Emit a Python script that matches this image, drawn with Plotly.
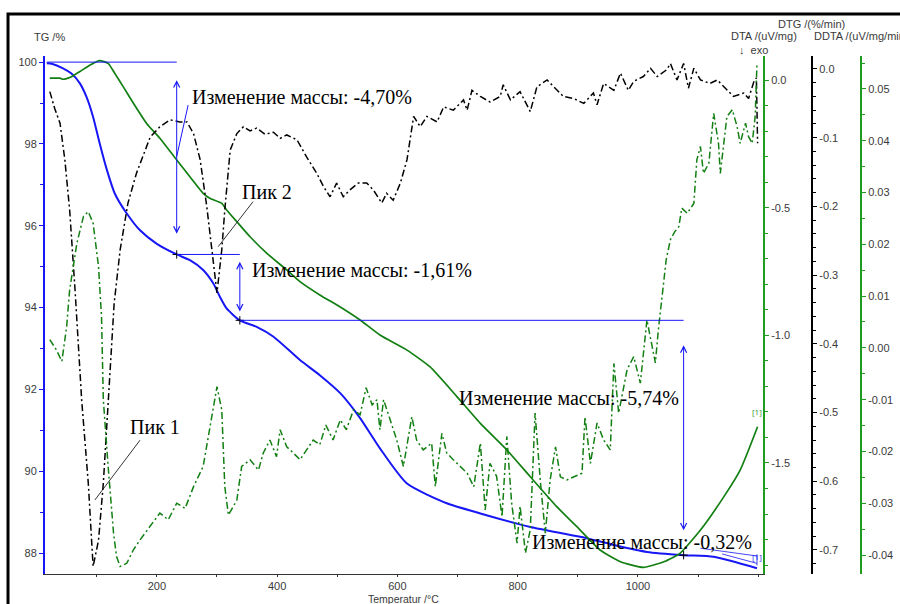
import plotly.graph_objects as go

# ---- measured signals: (temperature °C, value) ----
TG_POINTS = [
    (17, 99.97), (25, 99.96), (44, 99.85), (58, 99.72), (72, 99.48), (83, 99.15),
    (94, 98.66), (105, 98.01), (117, 97.36), (130, 96.79), (150, 96.30), (172, 95.89),
    (200, 95.56), (233, 95.30), (255, 95.16), (277, 94.92), (294, 94.59), (305, 94.26),
    (316, 93.98), (338, 93.69), (366, 93.53), (394, 93.29), (438, 92.72), (471, 92.35),
    (505, 91.91), (538, 91.30), (571, 90.56), (616, 89.70), (682, 89.22), (738, 88.97),
    (821, 88.64), (904, 88.40), (960, 88.20), (1015, 88.03), (1076, 87.95), (1126, 87.91),
    (1198, 87.63),
]

DTA_POINTS = [
    (22, 0.007), (39, 0.007), (44, 0.003), (58, 0.013), (72, 0.033), (89, 0.059),
    (105, 0.076), (119, 0.065), (130, 0.026), (144, -0.026), (161, -0.091), (183, -0.170),
    (205, -0.228), (233, -0.313), (255, -0.379), (277, -0.444), (288, -0.463), (308, -0.483),
    (316, -0.509), (333, -0.555), (355, -0.614), (383, -0.679), (416, -0.744), (438, -0.790),
    (471, -0.842), (505, -0.889), (538, -0.940), (571, -0.999), (616, -1.058), (654, -1.123),
    (699, -1.240), (738, -1.345), (782, -1.449), (821, -1.554), (865, -1.671), (904, -1.763),
    (937, -1.841), (971, -1.887), (1009, -1.909), (1043, -1.887), (1070, -1.854),
    (1104, -1.763), (1143, -1.632), (1170, -1.528), (1199, -1.358),
]

DTG_POINTS = [
    (22, -0.033), (30, -0.057), (39, -0.079), (47, -0.132), (55, -0.205), (64, -0.322),
    (75, -0.482), (86, -0.603), (94, -0.724), (103, -0.686), (111, -0.603), (119, -0.482),
    (129, -0.341), (139, -0.263), (152, -0.195), (166, -0.152), (189, -0.099), (205, -0.084),
    (222, -0.074), (238, -0.077), (250, -0.077), (261, -0.094), (272, -0.132), (283, -0.200),
    (291, -0.263), (300, -0.326), (308, -0.263), (313, -0.205), (322, -0.118), (333, -0.094),
    (344, -0.084), (355, -0.090), (366, -0.086), (380, -0.095), (394, -0.092), (405, -0.101),
    (416, -0.096), (433, -0.103), (449, -0.128), (466, -0.152), (477, -0.171), (488, -0.186),
    (499, -0.166), (510, -0.186), (521, -0.176), (535, -0.166), (549, -0.166), (560, -0.176),
    (574, -0.195), (582, -0.181), (593, -0.191), (605, -0.166), (616, -0.132), (627, -0.069),
    (638, -0.084), (649, -0.069), (666, -0.077), (677, -0.055), (693, -0.060), (710, -0.045),
    (716, -0.060), (724, -0.031), (738, -0.040), (754, -0.048), (771, -0.040), (776, -0.023),
    (788, -0.045), (804, -0.033), (821, -0.062), (832, -0.026), (849, -0.016), (865, -0.031),
    (876, -0.040), (893, -0.043), (910, -0.050), (926, -0.035), (932, -0.052), (943, -0.021),
    (960, -0.031), (971, -0.006), (984, -0.031), (993, -0.018), (1009, -0.011), (1021, 0.001),
    (1032, -0.011), (1048, -0.001), (1054, 0.008), (1065, -0.016), (1076, 0.008),
    (1084, -0.028), (1093, 0.001), (1104, -0.016), (1120, -0.021), (1132, -0.016),
    (1143, -0.026), (1159, -0.040), (1176, -0.035), (1184, -0.043), (1193, -0.018),
    (1197, -0.013), (1199, -0.108),
]

DDTA_POINTS = [
    (22, 0.0016), (33, -0.0004), (42, -0.0026), (44, -0.0010), (50, 0.0041), (55, 0.0112),
    (67, 0.0202), (78, 0.0254), (86, 0.0263), (94, 0.0241), (103, 0.0157), (108, 0.0060),
    (111, -0.0100), (119, -0.0229), (128, -0.0358), (133, -0.0403), (139, -0.0422),
    (150, -0.0416), (161, -0.0390), (172, -0.0371), (189, -0.0345), (205, -0.0319),
    (219, -0.0332), (233, -0.0300), (247, -0.0310), (261, -0.0268), (277, -0.0229),
    (288, -0.0152), (300, -0.0075), (308, -0.0120), (313, -0.0268), (319, -0.0323),
    (333, -0.0294), (341, -0.0229), (355, -0.0216), (369, -0.0236), (377, -0.0203),
    (388, -0.0178), (399, -0.0210), (405, -0.0158), (416, -0.0191), (427, -0.0203),
    (438, -0.0216), (449, -0.0197), (460, -0.0178), (471, -0.0187), (481, -0.0149),
    (493, -0.0178), (505, -0.0139), (515, -0.0158), (527, -0.0120), (538, -0.0129),
    (548, -0.0077), (558, -0.0110), (566, -0.0100), (571, -0.0158), (577, -0.0100),
    (588, -0.0139), (599, -0.0178), (610, -0.0229), (624, -0.0133), (632, -0.0178),
    (643, -0.0197), (657, -0.0184), (663, -0.0268), (674, -0.0165), (682, -0.0203),
    (693, -0.0216), (704, -0.0229), (716, -0.0242), (727, -0.0268), (738, -0.0184),
    (746, -0.0313), (754, -0.0223), (765, -0.0248), (774, -0.0326), (782, -0.0171),
    (790, -0.0300), (799, -0.0377), (804, -0.0306), (813, -0.0396), (821, -0.0351),
    (829, -0.0126), (838, -0.0261), (846, -0.0358), (854, -0.0255), (863, -0.0191),
    (871, -0.0249), (882, -0.0255), (893, -0.0249), (907, -0.0242), (912, -0.0133),
    (921, -0.0223), (932, -0.0145), (943, -0.0178), (954, -0.0197), (960, -0.0030),
    (968, -0.0126), (982, -0.0042), (993, -0.0017), (1004, -0.0068), (1015, 0.0054),
    (1022, 0.0015), (1029, -0.0029), (1034, 0.0035), (1041, 0.0112), (1047, 0.0170),
    (1054, 0.0209), (1061, 0.0224), (1068, 0.0234), (1073, 0.0270), (1082, 0.0260),
    (1093, 0.0279), (1098, 0.0363), (1104, 0.0389), (1109, 0.0337), (1118, 0.0357),
    (1126, 0.0453), (1134, 0.0395), (1137, 0.0337), (1148, 0.0447), (1157, 0.0460),
    (1165, 0.0427), (1170, 0.0395), (1179, 0.0434), (1184, 0.0408), (1190, 0.0395),
    (1195, 0.0447), (1198, 0.0550),
]

# mass-loss evaluation
MASS_START = 100.0
MASS_STEPS = [-4.70, -1.61, -5.74, -0.32]
STEP_TEMPS = [233, 338, 1076]

# axis ticks
X_TICKS = [200, 400, 600, 800, 1000]
TG_TICKS = [88, 90, 92, 94, 96, 98, 100]
DTA_TICKS = [0.0, -0.5, -1.0, -1.5]
DTG_TICKS = [0.0, -0.1, -0.2, -0.3, -0.4, -0.5, -0.6, -0.7]
DDTA_TICKS = [0.05, 0.04, 0.03, 0.02, 0.01, 0.00, -0.01, -0.02, -0.03, -0.04]

BLUE = "#1717f5"
GREEN = "#127f12"
AXIS_GREEN = "#1f9b1f"
TXT = "#3a3a3a"
DASHDOT = "7px,3px,2px,3px"


def split(points):
    return [p[0] for p in points], [p[1] for p in points]


def fmt(v, nd):
    return f"{v:.{nd}f}".replace("\u2212", "-")


levels = [MASS_START]
for s in MASS_STEPS:
    levels.append(round(levels[-1] + s, 2))

fig = go.Figure()

tx, ty = split(DDTA_POINTS)
fig.add_trace(go.Scatter(x=tx, y=ty, yaxis="y4", mode="lines",
                         line=dict(color=GREEN, width=1.5, dash=DASHDOT)))
tx, ty = split(DTG_POINTS)
fig.add_trace(go.Scatter(x=tx, y=ty, yaxis="y3", mode="lines",
                         line=dict(color="black", width=1.5, dash=DASHDOT)))
tx, ty = split(DTA_POINTS)
fig.add_trace(go.Scatter(x=tx, y=ty, yaxis="y2", mode="lines",
                         line=dict(color=GREEN, width=1.7, shape="spline", smoothing=0.5)))
tx, ty = split(TG_POINTS)
fig.add_trace(go.Scatter(x=tx, y=ty, yaxis="y", mode="lines",
                         line=dict(color=BLUE, width=2, shape="spline", smoothing=0.6)))

# step evaluation lines
t_first = TG_POINTS[0][0]
t_last = TG_POINTS[-1][0]
h_segments = [
    (t_first, STEP_TEMPS[0], levels[0]),
    (STEP_TEMPS[0], STEP_TEMPS[1], levels[1]),
    (STEP_TEMPS[1], STEP_TEMPS[2], levels[2]),
]
shapes = []
for x0, x1, lv in h_segments:
    shapes.append(dict(type="line", xref="x", yref="y", x0=x0, x1=x1, y0=lv, y1=lv,
                       line=dict(color=BLUE, width=1)))

# last small step bracket
shapes.append(dict(type="line", xref="x", yref="y", x0=1104, x1=t_last, y0=88.12, y1=87.93,
                   line=dict(color=BLUE, width=0.8)))
shapes.append(dict(type="line", xref="x", yref="y", x0=1140, x1=t_last, y0=87.98, y1=87.75,
                   line=dict(color=BLUE, width=0.8)))
shapes.append(dict(type="line", xref="x", yref="y", x0=t_last, x1=t_last, y0=87.97, y1=87.70,
                   line=dict(color=BLUE, width=0.8)))

# leader lines
shapes.append(dict(type="line", xref="x", yref="y", x0=252, y0=98.95, x1=233, y1=97.69,
                   line=dict(color=BLUE, width=1)))
shapes.append(dict(type="line", xref="x", yref="y", x0=360, y0=96.59, x1=302, y1=95.49,
                   line=dict(color="black", width=0.8)))
shapes.append(dict(type="line", xref="x", yref="y", x0=172, y0=90.76, x1=97, y1=89.30,
                   line=dict(color="black", width=0.8)))

# outer frame
shapes.append(dict(type="rect", xref="paper", yref="paper", x0=-0.0443, x1=1.04,
                   y0=-0.08, y1=1.0811, line=dict(color="black", width=3),
                   fillcolor="rgba(0,0,0,0)", layer="above"))

# step markers
fig.add_trace(go.Scatter(x=STEP_TEMPS, y=levels[1:4], yaxis="y", mode="markers",
                         marker=dict(symbol="cross-thin", size=6,
                                     line=dict(color="black", width=1))))

annotations = []
# double-headed arrows
arrow_spans = [
    (STEP_TEMPS[0], levels[0] - 0.44, levels[1] + 0.47),
    (STEP_TEMPS[1], levels[1] - 0.18, levels[2] + 0.18),
    (STEP_TEMPS[2], levels[2] - 0.61, levels[3] + 0.57),
]
for t, ytop, ybot in arrow_spans:
    annotations.append(dict(x=t, y=ytop, ax=t, ay=ybot, xref="x", yref="y",
                            axref="x", ayref="y", text="", showarrow=True,
                            arrowhead=5, startarrowhead=5, arrowside="end+start",
                            arrowsize=1.2, startarrowsize=1.2, arrowwidth=1,
                            arrowcolor=BLUE, standoff=0, startstandoff=0))

label_pos = [(255, 99.14), (355, 94.92), (699, 91.80), (821, 88.28)]
for (t, y), s in zip(label_pos, MASS_STEPS):
    annotations.append(dict(x=t, y=y, xref="x", yref="y", xanchor="left", yanchor="middle",
                            text="Изменение массы: " + fmt(s, 2).replace(".", ",") + "%",
                            showarrow=False,
                            font=dict(family="Liberation Serif", size=20, color="black")))

annotations.append(dict(x=338, y=96.83, xref="x", yref="y", xanchor="left", yanchor="middle",
                        text="Пик 2", showarrow=False,
                        font=dict(family="Liberation Serif", size=20, color="black")))
annotations.append(dict(x=152, y=91.09, xref="x", yref="y", xanchor="left", yanchor="middle",
                        text="Пик 1", showarrow=False,
                        font=dict(family="Liberation Serif", size=20, color="black")))

annotations.append(dict(x=t_last, y=91.45, xref="x", yref="y", xanchor="center",
                        yanchor="middle", text="[1]", showarrow=False,
                        font=dict(size=8, color=AXIS_GREEN)))
annotations.append(dict(x=t_last, y=87.93, xref="x", yref="y", xanchor="center",
                        yanchor="middle", text="[1]", showarrow=False,
                        font=dict(size=8, color=BLUE)))

# axis titles
title_font = dict(family="Liberation Sans", size=11, color=TXT)
annotations += [
    dict(x=-0.0156, y=1.0367, xref="paper", yref="paper", xanchor="left", yanchor="middle",
         text="TG /%", showarrow=False, font=title_font),
    dict(x=0.9174, y=1.0618, xref="paper", yref="paper", xanchor="center", yanchor="middle",
         text="DTG /(%/min)", showarrow=False, font=title_font),
    dict(x=0.8611, y=1.0386, xref="paper", yref="paper", xanchor="center", yanchor="middle",
         text="DTA /(uV/mg)", showarrow=False, font=title_font),
    dict(x=0.9186, y=1.0386, xref="paper", yref="paper", xanchor="left", yanchor="middle",
         text="DDTA /(uV/mg/min)", showarrow=False, font=title_font),
    dict(x=0.8287, y=1.0116, xref="paper", yref="paper", xanchor="left", yanchor="middle",
         text="\u2193  exo", showarrow=False, font=title_font),
    dict(x=0.4299, y=-0.0473, xref="paper", yref="paper", xanchor="center", yanchor="middle",
         text="Temperatur /°C", showarrow=False,
         font=dict(family="Liberation Sans", size=10.5, color=TXT)),
]

tick_font = dict(family="Liberation Sans", size=11, color=TXT)

fig.update_layout(
    width=900, height=604,
    margin=dict(l=45, r=20, t=56, b=30, autoexpand=False),
    paper_bgcolor="white", plot_bgcolor="white",
    showlegend=False,
    shapes=shapes, annotations=annotations,
    xaxis=dict(domain=[0, 0.85988], range=[14, 1208], showgrid=False, zeroline=False,
               showline=True, linecolor="#333333", linewidth=1,
               tickmode="array", tickvals=X_TICKS, ticktext=[str(v) for v in X_TICKS],
               ticks="outside", ticklen=2, tickcolor="#333333", tickfont=tick_font,
               minor=dict(tick0=0, dtick=100, ticks="outside", ticklen=2,
                          tickcolor="#333333")),
    yaxis=dict(range=[87.49, 100.15], showgrid=False, zeroline=False,
               showline=True, linecolor=BLUE, linewidth=2,
               tickmode="array", tickvals=TG_TICKS, ticktext=[str(v) for v in TG_TICKS],
               ticks="outside", ticklen=4, tickcolor=BLUE, tickfont=tick_font,
               minor=dict(tick0=0, dtick=1, ticks="outside", ticklen=3, tickcolor=BLUE)),
    yaxis2=dict(overlaying="y", side="right", anchor="x", range=[-1.935, 0.094],
                showgrid=False, zeroline=False, showline=True, linecolor=AXIS_GREEN,
                linewidth=2, tickmode="array", tickvals=DTA_TICKS,
                ticktext=[fmt(v, 1) for v in DTA_TICKS],
                ticks="outside", ticklen=4, tickcolor=AXIS_GREEN, tickfont=tick_font,
                minor=dict(tick0=0, dtick=0.1, ticks="outside", ticklen=3,
                           tickcolor=AXIS_GREEN)),
    yaxis3=dict(overlaying="y", side="right", anchor="free", position=0.9186,
                range=[-0.735, 0.0189], showgrid=False, zeroline=False, showline=True,
                linecolor="black", linewidth=2, tickmode="array", tickvals=DTG_TICKS,
                ticktext=[fmt(v, 1) for v in DTG_TICKS],
                ticks="outside", ticklen=4, tickcolor="black", tickfont=tick_font,
                minor=dict(tick0=0, dtick=0.02, ticks="outside", ticklen=3,
                           tickcolor="black")),
    yaxis4=dict(overlaying="y", side="right", anchor="free", position=0.9772,
                range=[-0.04367, 0.05637], showgrid=False, zeroline=False, showline=True,
                linecolor=AXIS_GREEN, linewidth=2, tickmode="array", tickvals=DDTA_TICKS,
                ticktext=[fmt(v, 2) for v in DDTA_TICKS],
                ticks="outside", ticklen=4, tickcolor=AXIS_GREEN, tickfont=tick_font,
                minor=dict(tick0=0, dtick=0.005, ticks="outside", ticklen=3,
                           tickcolor=AXIS_GREEN)),
)

fig.write_html("out.html")
